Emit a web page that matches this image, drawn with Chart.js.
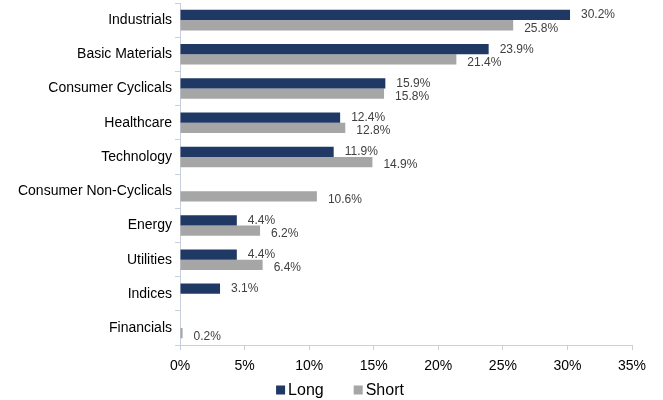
<!DOCTYPE html>
<html>
<head>
<meta charset="utf-8">
<script src="https://cdn.jsdelivr.net/npm/chart.js@4"></script>
<style>
html,body{margin:0;padding:0;background:#fff;}
#wrap{width:663px;height:400px;}
</style>
</head>
<body>
<div id="wrap"><canvas id="c" width="663" height="400"></canvas></div>
<script>
const categories = ["Industrials","Basic Materials","Consumer Cyclicals","Healthcare","Technology","Consumer Non-Cyclicals","Energy","Utilities","Indices","Financials"];
const longValues = [30.2, 23.9, 15.9, 12.4, 11.9, null, 4.4, 4.4, 3.1, null];
const shortValues = [25.8, 21.4, 15.8, 12.8, 14.9, 10.6, 6.2, 6.4, null, 0.2];
const xTicks = [0,5,10,15,20,25,30,35];

const FONT = '"Liberation Sans", Arial, sans-serif';

const labelPlugin = {
  id: 'barLabels',
  afterDatasetsDraw(chart) {
    const ctx = chart.ctx;
    ctx.save();
    ctx.font = '12px ' + FONT;
    ctx.fillStyle = '#404040';
    ctx.textBaseline = 'middle';
    ctx.textAlign = 'left';
    chart.data.datasets.forEach((ds, di) => {
      const meta = chart.getDatasetMeta(di);
      meta.data.forEach((el, i) => {
        const v = ds.data[i];
        if (v === null || v === undefined) return;
        const dy = di === 0 ? 0 : 3;
        ctx.fillText(v.toFixed(1) + '%', el.x + 11, el.y + dy);
      });
    });
    ctx.restore();
  }
};

const legendPlugin = {
  id: 'bottomLegend',
  afterDraw(chart) {
    const ctx = chart.ctx;
    ctx.save();
    ctx.font = '16px ' + FONT;
    ctx.textBaseline = 'middle';
    ctx.textAlign = 'left';
    const box = 9, gapText = 3, gapItem = 30, cy = 390;
    const items = chart.data.datasets.map(ds => ({label: ds.label, color: ds.backgroundColor, w: ctx.measureText(ds.label).width}));
    let total = 0;
    items.forEach((it, i) => { total += box + gapText + it.w + (i < items.length - 1 ? gapItem : 0); });
    let x = 340 - total / 2;
    items.forEach(it => {
      ctx.fillStyle = it.color;
      ctx.fillRect(x, cy - box / 2, box, box);
      ctx.fillStyle = '#000';
      ctx.fillText(it.label, x + box + gapText, cy + 1);
      x += box + gapText + it.w + gapItem;
    });
    ctx.restore();
  }
};

new Chart(document.getElementById('c'), {
  type: 'bar',
  data: {
    labels: categories,
    datasets: [
      {label: 'Long', data: longValues, backgroundColor: '#203864', borderWidth: 0, categoryPercentage: 0.6, barPercentage: 1.0},
      {label: 'Short', data: shortValues, backgroundColor: '#A6A6A6', borderWidth: 0, categoryPercentage: 0.6, barPercentage: 1.0}
    ]
  },
  options: {
    indexAxis: 'y',
    responsive: false,
    animation: false,
    devicePixelRatio: 1,
    layout: {padding: {top: 3, right: 31, left: 0, bottom: 17}},
    plugins: {
      legend: {display: false},
      tooltip: {enabled: false}
    },
    scales: {
      x: {
        min: 0, max: 35,
        afterBuildTicks(axis) { axis.ticks = xTicks.map(v => ({value: v})); },
        ticks: {
          color: '#000',
          font: {family: FONT, size: 14},
          callback: v => v + '%',
          padding: 8
        },
        grid: {display: true, drawOnChartArea: false, drawTicks: true, tickLength: 5, color: '#C8D0DC'},
        border: {display: true, color: '#C8D0DC'}
      },
      y: {
        afterFit(axis) { axis.width = 180; axis.paddingTop = 0; axis.paddingBottom = 0; },
        ticks: {
          color: '#000',
          font: {family: FONT, size: 14},
          padding: 3
        },
        grid: {display: true, offset: true, drawOnChartArea: false, drawTicks: true, tickLength: 5, color: '#C8D0DC'},
        border: {display: true, color: '#C8D0DC'}
      }
    }
  },
  plugins: [labelPlugin, legendPlugin]
});
</script>
</body>
</html>
